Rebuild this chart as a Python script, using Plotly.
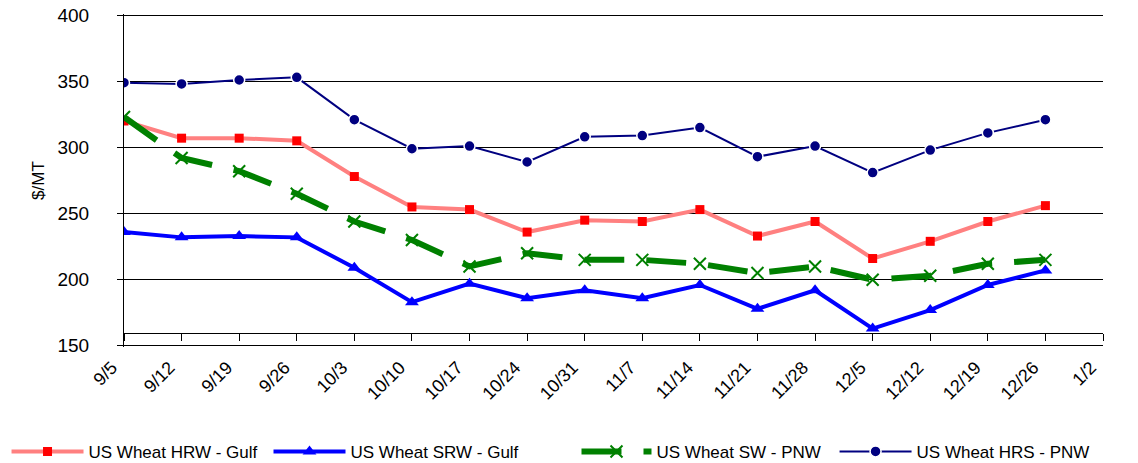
import plotly.graph_objects as go

weeks = ["9/5", "9/12", "9/19", "9/26", "10/3", "10/10", "10/17", "10/24", "10/31",
         "11/7", "11/14", "11/21", "11/28", "12/5", "12/12", "12/19", "12/26"]
tick_labels = weeks + ["1/2"]

hrw_gulf = [320, 307, 307, 305, 278, 255, 253, 236, 245, 244, 253, 233, 244, 216, 229, 244, 256]
srw_gulf = [236, 232, 233, 232, 209, 183, 197, 186, 192, 186, 196, 178, 192, 163, 177, 196, 207]
sw_pnw = [323, 292, 282, 265, 244, 230, 210, 220, 215, 215, 212, 205, 210, 200, 203, 212, 215]
hrs_pnw = [349, 348, 351, 353, 321, 299, 301, 289, 308, 309, 315, 293, 301, 281, 298, 311, 321]

fig = go.Figure()
fig.add_trace(go.Scatter(
    x=weeks, y=hrw_gulf, name="US Wheat HRW - Gulf", mode="lines+markers",
    line=dict(color="#FF8080", width=4),
    marker=dict(symbol="square", size=9, color="#FF0000"),
    legend="legend",
))
fig.add_trace(go.Scatter(
    x=weeks, y=srw_gulf, name="US Wheat SRW - Gulf", mode="lines+markers",
    line=dict(color="#0000FF", width=4),
    marker=dict(symbol="triangle-up", size=12, color="#0000FF"),
    legend="legend2",
))
fig.add_trace(go.Scatter(
    x=weeks, y=sw_pnw, name="US Wheat SW - PNW", mode="lines+markers",
    line=dict(color="#008000", width=6, dash="40px,22px"),
    marker=dict(symbol="x-thin-open", size=12, color="#008000",
                line=dict(color="#008000", width=2)),
    legend="legend3",
))
fig.add_trace(go.Scatter(
    x=weeks, y=hrs_pnw, name="US Wheat HRS - PNW", mode="lines+markers",
    line=dict(color="#000080", width=2),
    marker=dict(symbol="circle", size=11, color="#000080",
                line=dict(color="#FFFFFF", width=1.5)),
    legend="legend4",
))

def leg(x, iw):
    return dict(
        orientation="h", x=x, xanchor="left", y=-0.315, yanchor="middle",
        font=dict(size=17), itemwidth=iw, bgcolor="rgba(0,0,0,0)",
    )

fig.update_layout(
    width=1130, height=455,
    margin=dict(l=116, r=35, t=6, b=116, autoexpand=False),
    paper_bgcolor="white", plot_bgcolor="white",
    font=dict(family="Liberation Sans, Arial, sans-serif", color="black", size=16),
    showlegend=True,
    legend=leg(-0.120, 72),
    legend2=leg(0.1476, 72),
    legend3=leg(0.4622, 70),
    legend4=leg(0.7258, 72),
)
fig.update_xaxes(
    type="category", categoryorder="array", categoryarray=tick_labels,
    range=[0, 17], tickmode="array", tickvals=tick_labels, ticktext=tick_labels,
    tickangle=-45, tickfont=dict(size=18), automargin=False,
    ticklabelstandoff=9, ticklabelshift=-12, ticklabeloverflow="allow",
    showline=True, linecolor="black", linewidth=1,
    ticks="outside", ticklen=7, tickcolor="black",
    showgrid=False, zeroline=False,
    anchor="free", position=0.042,
)
fig.update_yaxes(
    range=[149.1, 400.9], tickmode="linear", tick0=150, dtick=50,
    tickfont=dict(size=19), automargin=False, ticklabeloverflow="allow",
    showline=True, linecolor="black", linewidth=1,
    ticks="outside", ticklen=6, tickcolor="black", ticklabelstandoff=24,
    showgrid=True, gridcolor="black", gridwidth=1, zeroline=False,
    title=dict(text="$/MT", font=dict(size=17), standoff=8),
)

fig.write_html("out.html")
